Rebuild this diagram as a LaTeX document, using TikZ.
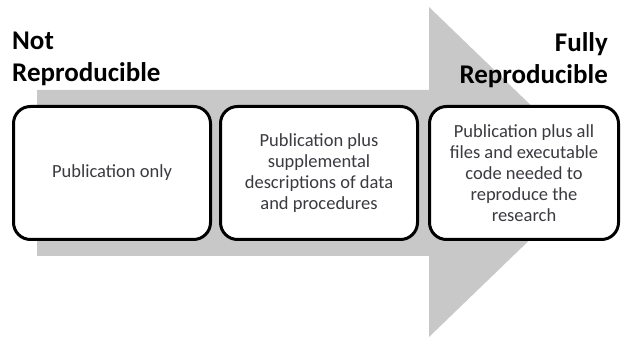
\documentclass[tikz,border=0pt]{standalone}
\usepackage{fontspec}
\setmainfont{Carlito}
\usepackage{xcolor}
\usepackage{tikz}
\usetikzlibrary{positioning}
\definecolor{fundoseta}{RGB}{200,200,200}
\definecolor{textoetapa}{RGB}{58,58,64}

\begin{document}
\begin{tikzpicture}[x=1pt, y=1pt,
        every node/.style={align=center},
        etapa/.style={draw, line width=3pt, rounded corners=17pt, fill=white, minimum width=197pt, minimum height=133pt, inner sep=0pt, text=textoetapa, font=\fontsize{18.5}{21}\selectfont},
        titulo/.style={inner sep=0pt, font=\fontsize{27}{32}\selectfont\bfseries}
    ]
        \useasboundingbox (0,0) rectangle (623,337);
        \fill[fundoseta] (37,81) -- (429,81) -- (429,0) -- (600,165) -- (429,330) -- (429,247) -- (37,247) -- cycle;
        \node[etapa] (publicacao) at (112,164) {Publication only};
        \node[etapa, right=7pt of publicacao] (suplementar) {Publication plus\\supplemental\\descriptions of data\\and procedures};
        \node[etapa, minimum width=189pt, right=9pt of suplementar] (completo) {Publication plus all\\files and executable\\code needed to\\reproduce the\\research};
        \node[titulo, anchor=north west, align=left] (nao) at (12,305) {Not\\Reproducible};
        \node[titulo, anchor=north east, align=right] (total) at (608,305) {Fully\\Reproducible};
\end{tikzpicture}
\end{document}
